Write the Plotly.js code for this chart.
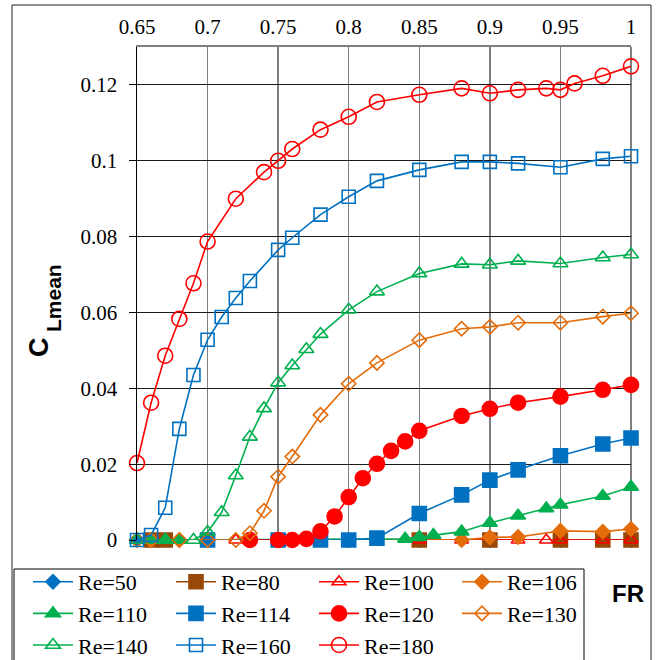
<!DOCTYPE html>
<html>
<head>
<meta charset="utf-8">
<script src="https://cdn.plot.ly/plotly-3.0.1.min.js"></script>
<style>html,body{margin:0;padding:0;background:#fff}</style>
</head>
<body>
<div id="chart" style="width:658px;height:660px"></div>
<script>
// Mean lift coefficient against frequency ratio FR, one series per Reynolds number
const xRe50  = [0.65, 0.70, 0.75, 0.80, 0.85, 0.90, 0.95, 1.00];
const yRe50  = [0, 0, 0, 0, 0, 0, 0, 0];

const xRe80  = [0.66, 0.67, 0.85, 0.90, 0.95, 0.98, 1.00];
const yRe80  = [0, 0, 0, 0, 0, 0, 0];

const xRe100 = [0.72, 0.85, 0.88, 0.92, 0.94, 0.95, 0.98, 1.00];
const yRe100 = [0, 0, 0, 0, 0, 0, 0, 0];

const xRe106 = [0.66, 0.68, 0.88, 0.90, 0.92, 0.95, 0.98, 1.00];
const yRe106 = [0, 0, 0, 0.0007, 0.0008, 0.0024, 0.0022, 0.0029];

const xRe110 = [0.66, 0.67, 0.68, 0.84, 0.85, 0.86, 0.88, 0.90, 0.92, 0.94, 0.95, 0.98, 1.00];
const yRe110 = [0, 0, 0, 0.0003, 0.0008, 0.0013, 0.0022, 0.0045, 0.0064, 0.0083, 0.0093, 0.0116, 0.0140];

const xRe114 = [0.70, 0.75, 0.78, 0.80, 0.82, 0.85, 0.88, 0.90, 0.92, 0.95, 0.98, 1.00];
const yRe114 = [0, 0, 0, 0, 0.0005, 0.0070, 0.0119, 0.0158, 0.0185, 0.0222, 0.0253, 0.0269];

const xRe120 = [0.73, 0.75, 0.76, 0.77, 0.78, 0.79, 0.80, 0.81, 0.82, 0.83, 0.84, 0.85, 0.88, 0.90, 0.92, 0.95, 0.98, 1.00];
const yRe120 = [0, 0, 0, 0.0003, 0.0023, 0.0062, 0.0113, 0.0163, 0.0201, 0.0235, 0.0260, 0.0288, 0.0327, 0.0346, 0.0362, 0.0378, 0.0396, 0.0409];

const xRe130 = [0.65, 0.66, 0.68, 0.70, 0.72, 0.73, 0.74, 0.75, 0.76, 0.78, 0.80, 0.82, 0.85, 0.88, 0.90, 0.92, 0.95, 0.98, 1.00];
const yRe130 = [0, 0, 0, 0, 0, 0.0018, 0.0077, 0.0167, 0.0220, 0.0330, 0.0412, 0.0467, 0.0527, 0.0557, 0.0562, 0.0573, 0.0573, 0.0589, 0.0598];

const xRe140 = [0.65, 0.67, 0.69, 0.70, 0.71, 0.72, 0.73, 0.74, 0.75, 0.76, 0.77, 0.78, 0.80, 0.82, 0.85, 0.88, 0.90, 0.92, 0.95, 0.98, 1.00];
const yRe140 = [0, 0, 0, 0.0021, 0.0073, 0.0170, 0.0272, 0.0347, 0.0415, 0.0460, 0.0503, 0.0543, 0.0607, 0.0655, 0.0703, 0.0728, 0.0726, 0.0736, 0.0729, 0.0745, 0.0753];

const xRe160 = [0.65, 0.66, 0.67, 0.68, 0.69, 0.70, 0.71, 0.72, 0.73, 0.75, 0.76, 0.78, 0.80, 0.82, 0.85, 0.88, 0.90, 0.92, 0.95, 0.98, 1.00];
const yRe160 = [0, 0.0013, 0.0085, 0.0293, 0.0435, 0.0528, 0.0588, 0.0638, 0.0683, 0.0765, 0.0797, 0.0858, 0.0905, 0.0947, 0.0976, 0.0997, 0.0997, 0.0993, 0.0983, 0.1005, 0.1012];

const xRe180 = [0.65, 0.66, 0.67, 0.68, 0.69, 0.70, 0.72, 0.74, 0.75, 0.76, 0.78, 0.80, 0.82, 0.85, 0.88, 0.90, 0.92, 0.94, 0.95, 0.96, 0.98, 1.00];
const yRe180 = [0.0203, 0.0362, 0.0486, 0.0583, 0.0677, 0.0787, 0.0900, 0.0970, 0.1000, 0.1031, 0.1082, 0.1116, 0.1155, 0.1174, 0.1191, 0.1178, 0.1187, 0.1191, 0.1187, 0.1204, 0.1224, 0.1249];

const seriesNames = ['Re=50', 'Re=80', 'Re=100', 'Re=106', 'Re=110', 'Re=114', 'Re=120', 'Re=130', 'Re=140', 'Re=160', 'Re=180'];

const BLUE = '#0070C0', BROWN = '#984807', RED = '#FF0000', ORANGE = '#E46C0A', GREEN = '#00B050';

function series(name, x, y, color, symbol, size) {
  return {
    type: 'scatter', mode: 'lines+markers', name: name, x: x, y: y,
    cliponaxis: false,
    line: { color: color, width: 1.6 },
    marker: { color: color, symbol: symbol, size: size, line: { color: color, width: 1.6 } }
  };
}

const data = [
  series(seriesNames[0],  xRe50,  yRe50,  BLUE,   'diamond', 11),
  series(seriesNames[1],  xRe80,  yRe80,  BROWN,  'square', 14),
  series(seriesNames[2],  xRe100, yRe100, RED,    'triangle-up-open', 12),
  series(seriesNames[3],  xRe106, yRe106, ORANGE, 'diamond', 11),
  series(seriesNames[4],  xRe110, yRe110, GREEN,  'triangle-up', 13),
  series(seriesNames[5],  xRe114, yRe114, BLUE,   'square', 14),
  series(seriesNames[6],  xRe120, yRe120, RED,    'circle', 15),
  series(seriesNames[7],  xRe130, yRe130, ORANGE, 'diamond-open', 11),
  series(seriesNames[8],  xRe140, yRe140, GREEN,  'triangle-up-open', 13),
  series(seriesNames[9],  xRe160, yRe160, BLUE,   'square-open', 13),
  series(seriesNames[10], xRe180, yRe180, RED,    'circle-open', 15)
];

const serif = 'Liberation Serif';
const sans = 'Liberation Sans';

// plot-area edges in pixels, and helpers turning pixels into paper coordinates
const L = 137, R = 631, T = 47, B = 540;
const px = v => (v - L) / (R - L);
const py = v => (B - v) / (B - T);

const layout = {
  width: 658, height: 660,
  margin: { l: L, r: 658 - R, t: T, b: 660 - B, autoexpand: false },
  paper_bgcolor: '#ffffff', plot_bgcolor: '#ffffff',
  showlegend: true,
  xaxis: {
    range: [0.65, 1.0], side: 'top', tick0: 0.65, dtick: 0.05,
    showgrid: true, gridcolor: '#7f7f7f', gridwidth: 1.5,
    showline: true, linecolor: '#7f7f7f', linewidth: 2,
    ticks: '', zeroline: false, automargin: false, ticklabelstandoff: 3,
    tickfont: { family: serif, size: 21, color: '#000' }
  },
  yaxis: {
    range: [0, 0.13], tick0: 0, dtick: 0.02,
    showgrid: true, gridcolor: '#1a1a1a', gridwidth: 1,
    showline: true, linecolor: '#000', linewidth: 1.5,
    ticks: 'outside', ticklen: 7, tickcolor: '#000', tickwidth: 1,
    zeroline: false, automargin: false, ticklabelstandoff: 7,
    tickfont: { family: serif, size: 21, color: '#000' }
  },
  legend: {
    orientation: 'h', x: px(28), y: py(561), xanchor: 'left', yanchor: 'top',
    entrywidth: 88, entrywidthmode: 'pixels', itemwidth: 40,
    font: { family: serif, size: 22, color: '#000' },
    bgcolor: 'rgba(0,0,0,0)', borderwidth: 0
  },
  annotations: [
    // y-axis title: C with the subscript "Lmean"
    { xref: 'paper', yref: 'paper', x: px(39), y: py(347), xanchor: 'center', yanchor: 'middle',
      textangle: -90, text: 'C', showarrow: false,
      font: { family: sans, size: 27, color: '#000', weight: 'bold' } },
    { xref: 'paper', yref: 'paper', x: px(53), y: py(298), xanchor: 'center', yanchor: 'middle',
      textangle: -90, text: 'Lmean', showarrow: false,
      font: { family: sans, size: 21, color: '#000', weight: 'bold' } },
    { xref: 'paper', yref: 'paper', x: px(628), y: py(593), xanchor: 'center', yanchor: 'middle',
      text: 'FR', showarrow: false,
      font: { family: sans, size: 24, color: '#000', weight: 'bold' } }
  ],
  shapes: [
    // right border of the plot area
    { type: 'line', xref: 'paper', yref: 'paper', x0: 1, x1: 1, y0: 0, y1: 1,
      line: { color: '#7f7f7f', width: 2 }, layer: 'below' },
    // legend box
    { type: 'rect', xref: 'paper', yref: 'paper', x0: px(14), x1: px(584), y0: py(569), y1: py(680),
      line: { color: '#000', width: 1 } },
    // outer figure frame
    { type: 'rect', xref: 'paper', yref: 'paper', x0: px(12), x1: px(651), y0: py(5), y1: py(700),
      line: { color: '#222', width: 1 } }
  ]
};

Plotly.newPlot('chart', data, layout, { displayModeBar: false, staticPlot: true });
</script>
</body>
</html>
